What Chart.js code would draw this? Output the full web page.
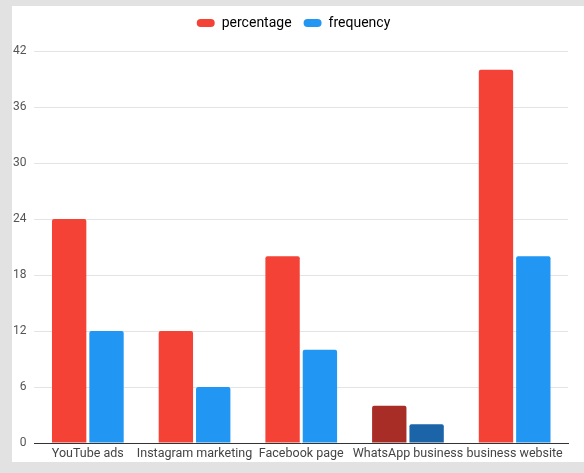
<!DOCTYPE html>
<html>
<head>
<meta charset="utf-8">
<script src="https://cdn.jsdelivr.net/npm/chart.js@4"></script>
<style>
    html, body { margin: 0; padding: 0; }
    body { width: 584px; height: 473px; background: #e2e2e2; position: relative; overflow: hidden; }
    #paper { position: absolute; left: 12px; top: 6px; width: 572px; height: 456px; background: #fff; }
    #wrap { position: absolute; left: 0; top: 0; width: 584px; height: 473px; }
</style>
</head>
<body>
<div id="paper"></div>
<div id="wrap"><canvas id="chart"></canvas></div>
<script>
const categories = ["YouTube ads", "Instagram marketing", "Facebook page", "WhatsApp business", "business website"];
const percentage = [24, 12, 20, 4, 40];
const frequency = [12, 6, 10, 2, 20];
const yTicks = [0, 6, 12, 18, 24, 30, 36, 42];

// WhatsApp bars are drawn darker, like a highlighted column
const highlight = 3;
const redColors = categories.map((c, i) => i === highlight ? "#a82d27" : "#f44336");
const blueColors = categories.map((c, i) => i === highlight ? "#1c64a8" : "#2196f3");

// extra room under the legend, and nudge it right a bit
const legendMargin = {
    id: 'legendMargin',
    beforeInit(chart) {
        const fit = chart.legend.fit;
        chart.legend.fit = function () {
            fit.bind(chart.legend)();
            this.height += 11;
        };
    },
    afterLayout(chart) {
        chart.legend.left += 7;
        chart.legend.right += 7;
    }
};

new Chart(document.getElementById("chart"), {
    type: 'bar',
    data: {
        labels: categories,
        datasets: [{
            label: 'percentage',
            data: percentage,
            backgroundColor: redColors,
            borderRadius: 2,
            barPercentage: 0.92,
            categoryPercentage: 0.7
        }, {
            label: 'frequency',
            data: frequency,
            backgroundColor: blueColors,
            borderRadius: 2,
            barPercentage: 0.92,
            categoryPercentage: 0.7
        }]
    },
    plugins: [legendMargin],
    options: {
        responsive: true,
        maintainAspectRatio: false,
        animation: false,
        layout: { padding: { left: 5, right: 16, top: 4, bottom: 9 } },
        plugins: {
            tooltip: { enabled: false },
            legend: {
                position: 'top',
                labels: {
                    font: { family: 'Roboto', size: 14 },
                    color: '#3a3a3a',
                    boxWidth: 18,
                    boxHeight: 8,
                    useBorderRadius: true,
                    borderRadius: 4,
                    padding: 12,
                    generateLabels: (chart) => chart.data.datasets.map((ds, i) => ({
                        text: ds.label,
                        fillStyle: i === 0 ? "#f44336" : "#2196f3",
                        strokeStyle: 'rgba(0,0,0,0)',
                        lineWidth: 0,
                        borderRadius: 4,
                        datasetIndex: i
                    }))
                }
            }
        },
        scales: {
            x: {
                grid: { display: false, drawTicks: false },
                border: { color: '#333', width: 1 },
                ticks: { font: { family: 'Roboto', size: 12.5 }, color: '#444', maxRotation: 0, autoSkip: false, padding: 3 }
            },
            y: {
                min: 0,
                max: 42,
                afterBuildTicks: (axis) => { axis.ticks = yTicks.map(v => ({ value: v })); },
                grid: { color: '#e4e4e4', drawTicks: false },
                border: { display: false },
                ticks: { font: { family: 'Roboto', size: 12 }, color: '#555', padding: 8 }
            }
        }
    }
});
</script>
</body>
</html>
